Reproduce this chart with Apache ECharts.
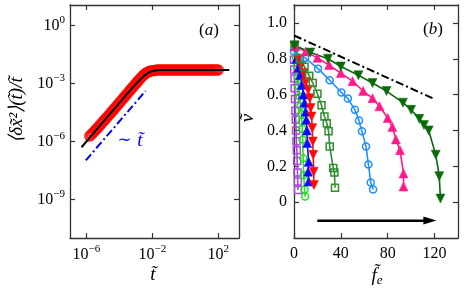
<!DOCTYPE html>
<html><head><meta charset="utf-8">
<script src="https://cdn.jsdelivr.net/npm/echarts@6/dist/echarts.min.js"></script>
<style>html,body{margin:0;padding:0;background:#fff}#c{width:468px;height:291px}</style>
</head><body><div id="c"></div>
<script>
// ---- Panel (a): values as log10 exponents ----
const aTickExp = [-6, -2, 2];
const aYTickExp = [-9, -6, -3, 0];
const redLogT = [-5.8,-5.7,-5.6,-5.5,-5.4,-5.3,-5.2,-5.1,-5.0,-4.9,-4.8,-4.7,-4.6,-4.5,-4.4,-4.3,-4.2,-4.1,-4.0,-3.9,-3.8,-3.7,-3.6,-3.5,-3.4,-3.3,-3.2,-3.1,-3.0,-2.9,-2.8,-2.7,-2.6,-2.5,-2.4,-2.3,-2.2,-2.1,-2.0,-1.9,-1.8,-1.7,-1.6,-1.5,-1.4,-1.3,-1.2,-1.1,-1.0,-0.9,-0.8,-0.7,-0.6,-0.5,-0.4,-0.3,-0.2,-0.1,0,0.1,0.2,0.3,0.4,0.5,0.6,0.7,0.8,0.9,1.0,1.1,1.2,1.3,1.4,1.5,1.6,1.7,1.8,1.9,2.0];
const redLogY = [-5.72,-5.64,-5.55,-5.46,-5.37,-5.28,-5.18,-5.08,-4.98,-4.89,-4.79,-4.69,-4.6,-4.5,-4.4,-4.3,-4.2,-4.1,-4.0,-3.9,-3.8,-3.7,-3.6,-3.5,-3.4,-3.3,-3.2,-3.1,-3.0,-2.9,-2.8,-2.71,-2.62,-2.54,-2.47,-2.42,-2.38,-2.35,-2.33,-2.32,-2.31,-2.3,-2.3,-2.3,-2.3,-2.3,-2.3,-2.3,-2.3,-2.3,-2.3,-2.3,-2.3,-2.3,-2.3,-2.3,-2.3,-2.3,-2.3,-2.3,-2.3,-2.3,-2.3,-2.3,-2.3,-2.3,-2.3,-2.3,-2.3,-2.3,-2.3,-2.3,-2.3,-2.3,-2.3,-2.3,-2.3,-2.3,-2.3];
const fitLogT = [-6.3,-5,-4,-3.5,-3,-2.75,-2.5,-2.3,-2.1,-1.9,-1.7,-1.5,-1,0,1,2,2.67];
const fitLogY = [-6.3,-5,-4,-3.5,-3.02,-2.8,-2.6,-2.47,-2.38,-2.33,-2.31,-2.3,-2.3,-2.3,-2.3,-2.3,-2.3];
const slopeLogT = [-6.04, -2.41];
const slopeLogY = [-6.98, -3.38];

// ---- Panel (b) ----
const bXTicks = [0, 40, 80, 120];
const bYTicks = [0, 0.2, 0.4, 0.6, 0.8, 1.0];
const purpleF = [0, 0.2, 0.4, 0.6, 0.9, 1.2, 1.5, 1.8, 2.1, 2.4, 2.7, 3.0, 3.2, 3.4];
const purpleV = [0.795, 0.74, 0.69, 0.635, 0.575, 0.51, 0.46, 0.4, 0.34, 0.29, 0.23, 0.165, 0.115, 0.068];
const limeF = [0.5, 1.5, 2.5, 3.3, 4, 4.8, 5.5, 6.2, 6.7, 7.1, 7.4, 7.8, 8.3, 9, 9.5];
const limeV = [0.87, 0.81, 0.76, 0.70, 0.646, 0.59, 0.535, 0.49, 0.45, 0.41, 0.35, 0.245, 0.15, 0.07, 0.031];
const blueF = [0.5, 2, 3.8, 5.2, 6.8, 8, 9, 10, 10.5, 11, 11.3, 12.5, 12, 12.5];
const blueV = [0.87, 0.80, 0.75, 0.71, 0.655, 0.60, 0.555, 0.505, 0.46, 0.40, 0.33, 0.225, 0.17, 0.115];
const redF = [0.5, 3.5, 6, 8, 10, 12, 13.5, 14.2, 15, 15.6, 16, 16.4, 16.8, 17];
const redV = [0.87, 0.80, 0.76, 0.72, 0.67, 0.627, 0.58, 0.525, 0.478, 0.413, 0.338, 0.264, 0.17, 0.096];
const sqF = [0.5, 5, 9, 13, 16, 20, 23.5, 26, 28, 29.5, 30.5, 33.5, 34.5, 35];
const sqV = [0.87, 0.80, 0.755, 0.705, 0.665, 0.605, 0.54, 0.478, 0.44, 0.395, 0.31, 0.19, 0.165, 0.08];
const dbF = [0, 9.5, 20.5, 30.5, 40.5, 46, 52, 55.5, 58, 61.5, 63.5, 65.5, 67.5];
const dbV = [0.84, 0.805, 0.745, 0.68, 0.612, 0.578, 0.515, 0.455, 0.395, 0.31, 0.21, 0.11, 0.07];
const pkF = [1, 10, 20, 30, 40, 50, 59, 67, 73, 80, 84, 87, 90.5, 93.5, 93.5];
const pkV = [0.87, 0.84, 0.805, 0.765, 0.72, 0.675, 0.62, 0.58, 0.535, 0.47, 0.42, 0.35, 0.29, 0.16, 0.087];
const dgF = [0.5, 14, 29, 40, 55, 67, 79, 93, 100, 107, 111, 115, 121, 124, 125];
const dgV = [0.875, 0.835, 0.80, 0.757, 0.708, 0.665, 0.62, 0.555, 0.515, 0.465, 0.43, 0.40, 0.265, 0.145, 0.02];
const boundF = [0, 120];
const boundV = [0.93, 0.575];
const arrowF = [20, 116];
const arrowV = [-0.103, -0.103];

const zip = (a, b) => a.map((v, i) => [v, b[i]]);
const FONT = 'Liberation Serif';
const spine = {show: true, onZero: false, lineStyle: {color: '#333', width: 1.3}};
const tick = (vals) => ({show: true, inside: true, length: 5, lineStyle: {color: '#333', width: 1.2}, customValues: vals});
const logFmt = v => '{b|10}{s|' + (v < 0 ? '\u2212' : '') + Math.abs(v) + '}';
const logRich = {b: {fontFamily: FONT, fontSize: 16, color: '#000', lineHeight: 22}, s: {fontFamily: FONT, fontSize: 11, color: '#000', verticalAlign: 'top'}};

const chart = echarts.init(document.getElementById('c'), null, {renderer: 'canvas'});

function lineSeries(f, v, color, symbol, size, open, rotate) {
  return {
    type: 'line', xAxisIndex: 2, yAxisIndex: 2, data: zip(f, v), clip: false,
    symbol: symbol, symbolSize: size, symbolRotate: rotate || 0, showAllSymbol: true,
    lineStyle: {color: color, width: 1.6},
    itemStyle: open ? {color: 'rgba(0,0,0,0)', borderColor: color, borderWidth: 1.5} : {color: color, borderColor: color, borderWidth: 0.5},
    emphasis: {disabled: true}, animation: false
  };
}

chart.setOption({
  animation: false,
  grid: [
    {left: 70, top: 5, width: 169, height: 233},
    {left: 294, top: 5, width: 164, height: 233}
  ],
  xAxis: [
    {gridIndex: 0, type: 'value', min: -7, max: 3.26, position: 'bottom', axisLine: spine, axisTick: tick(aTickExp), splitLine: {show: false},
     axisLabel: {customValues: aTickExp, formatter: logFmt, rich: logRich, margin: 6}},
    {gridIndex: 0, type: 'value', min: -7, max: 3.26, position: 'top', axisLine: spine, axisTick: tick(aTickExp), splitLine: {show: false}, axisLabel: {show: false}},
    {gridIndex: 1, type: 'value', min: 0, max: 140, position: 'bottom', axisLine: spine, axisTick: tick(bXTicks), splitLine: {show: false},
     axisLabel: {customValues: bXTicks, fontFamily: FONT, fontSize: 16, color: '#000', margin: 8}},
    {gridIndex: 1, type: 'value', min: 0, max: 140, position: 'top', axisLine: spine, axisTick: tick(bXTicks), splitLine: {show: false}, axisLabel: {show: false}}
  ],
  yAxis: [
    {gridIndex: 0, type: 'value', min: -11, max: 1.07, position: 'left', axisLine: spine, axisTick: tick(aYTickExp), splitLine: {show: false},
     axisLabel: {customValues: aYTickExp, formatter: logFmt, rich: logRich, margin: 5}},
    {gridIndex: 0, type: 'value', min: -11, max: 1.07, position: 'right', axisLine: spine, axisTick: tick(aYTickExp), splitLine: {show: false}, axisLabel: {show: false}},
    {gridIndex: 1, type: 'value', min: -0.2, max: 1.1, position: 'left', axisLine: spine, axisTick: tick(bYTicks), splitLine: {show: false},
     axisLabel: {customValues: bYTicks, formatter: v => (Math.abs(v) < 1e-9 ? '0' : v.toFixed(1)), fontFamily: FONT, fontSize: 16, color: '#000', margin: 7}},
    {gridIndex: 1, type: 'value', min: -0.2, max: 1.1, position: 'right', axisLine: spine, axisTick: tick(bYTicks), splitLine: {show: false}, axisLabel: {show: false}}
  ],
  series: [
    {type: 'scatter', xAxisIndex: 0, yAxisIndex: 0, data: zip(redLogT, redLogY), symbol: 'circle', symbolSize: 9,
     itemStyle: {color: 'rgba(0,0,0,0)', borderColor: '#ff0000', borderWidth: 2.5}, z: 2, emphasis: {disabled: true}},
    {type: 'line', xAxisIndex: 0, yAxisIndex: 0, data: zip(fitLogT, fitLogY), showSymbol: false, symbol: 'none',
     lineStyle: {color: '#000', width: 2}, z: 3},
    {type: 'line', xAxisIndex: 0, yAxisIndex: 0, data: zip(slopeLogT, slopeLogY), showSymbol: false, symbol: 'none',
     lineStyle: {color: '#0000ff', width: 2, type: [8, 3, 2, 3]}, z: 3},

    lineSeries(purpleF, purpleV, '#a64bd9', 'rect', 7, true),
    lineSeries(limeF, limeV, '#22e022', 'circle', 7, true),
    lineSeries(blueF, blueV, '#0a0aff', 'triangle', 9, false),
    lineSeries(redF, redV, '#ff0a0a', 'triangle', 9, false, 180),
    lineSeries(sqF, sqV, '#2f8f2f', 'rect', 7, true),
    lineSeries(dbF, dbV, '#1e8fff', 'circle', 7, true),
    lineSeries(pkF, pkV, '#ff1a8c', 'triangle', 9, false),
    lineSeries(dgF, dgV, '#0a6a0a', 'triangle', 9, false, 180),

    {type: 'line', xAxisIndex: 2, yAxisIndex: 2, data: zip(boundF, boundV), showSymbol: false, symbol: 'none',
     lineStyle: {color: '#000', width: 2, type: [8, 3, 2, 3]}, z: 3},
    {type: 'line', xAxisIndex: 2, yAxisIndex: 2, data: zip(arrowF, arrowV), showSymbol: false, symbol: 'none',
     lineStyle: {color: '#000', width: 2}, z: 3,
     markLine: {silent: true, animation: false, symbol: ['none', 'triangle'], symbolSize: [8, 13],
       label: {show: false}, lineStyle: {color: '#000', width: 2, type: 'solid'},
       data: [[{coord: [arrowF[0], arrowV[0]]}, {coord: [arrowF[1], arrowV[1]]}]]}}
  ],
  graphic: [
    {type: 'text', x: 209, y: 31, style: {text: '{n|(}{i|a}{n|)}', align: 'center', verticalAlign: 'middle',
      rich: {n: {fontFamily: FONT, fontSize: 17, fill: '#000'}, i: {fontFamily: FONT, fontSize: 17, fontStyle: 'italic', fill: '#000'}}}},
    {type: 'text', x: 433, y: 30, style: {text: '{n|(}{i|b}{n|)}', align: 'center', verticalAlign: 'middle',
      rich: {n: {fontFamily: FONT, fontSize: 17, fill: '#000'}, i: {fontFamily: FONT, fontSize: 17, fontStyle: 'italic', fill: '#000'}}}},
    {type: 'text', x: 130, y: 141, style: {text: '{n|\u223C }{i|t\u0303}', align: 'center', verticalAlign: 'middle',
      rich: {n: {fontFamily: 'DejaVu Serif', fontSize: 17, fill: '#0000ff'}, i: {fontFamily: FONT, fontSize: 19, fontStyle: 'italic', fill: '#0000ff'}}}},
    {type: 'text', x: 153, y: 275, style: {text: 't\u0303', align: 'center', verticalAlign: 'middle',
      fontFamily: FONT, fontSize: 19, fontStyle: 'italic', fill: '#000'}},
    {type: 'text', x: 377, y: 276, style: {text: '{i|f\u0303}{s|e}', align: 'center', verticalAlign: 'middle',
      rich: {i: {fontFamily: FONT, fontSize: 19, fontStyle: 'italic', fill: '#000', lineHeight: 22}, s: {fontFamily: FONT, fontSize: 13, fontStyle: 'italic', fill: '#000', verticalAlign: 'bottom'}}}},
    {type: 'text', x: 17, y: 110, rotation: Math.PI / 2, style: {text: '\u27E8\u03B4x\u0303\u00B2\u27E9(t\u0303)/t\u0303', align: 'center', verticalAlign: 'middle',
      fontFamily: FONT, fontSize: 19, fontStyle: 'italic', fill: '#000'}},
    {type: 'text', x: 248, y: 118, rotation: Math.PI / 2, style: {text: 'v\u0303', align: 'center', verticalAlign: 'middle',
      fontFamily: FONT, fontSize: 19, fontStyle: 'italic', fill: '#000'}}
  ]
});
</script>
</body></html>
